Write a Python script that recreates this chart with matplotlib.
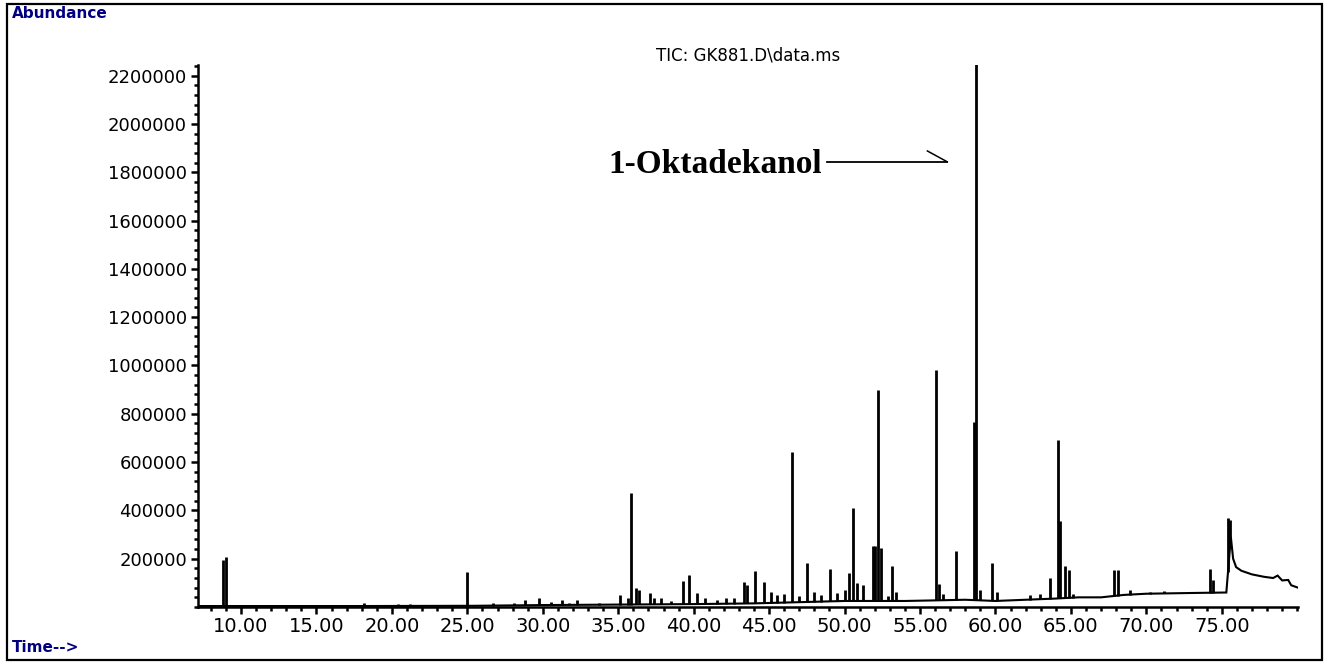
import numpy as np
import matplotlib.pyplot as plt
from matplotlib.patches import Rectangle
from matplotlib.ticker import MultipleLocator, FormatStrFormatter

PEAK_TIMES = [8.80, 9.00, 18.17, 20.42, 21.22, 25.01, 26.73, 28.06, 28.79, 29.72,
              30.52, 31.25, 31.71, 32.24, 33.70, 35.10, 35.63, 35.83, 36.16, 36.36,
              37.09, 37.36, 37.82, 38.49, 39.28, 39.68, 40.21, 40.74, 41.54, 42.14,
              42.67, 43.33, 43.53, 44.06, 44.66, 45.13, 45.52, 45.99, 46.52, 46.99,
              47.52, 47.98, 48.45, 49.04, 49.51, 50.04, 50.30, 50.57, 50.84, 51.24,
              51.90, 52.03, 52.23, 52.43, 52.90, 53.16, 53.43, 56.08, 56.28, 56.55,
              57.41, 58.61, 58.74, 59.00, 59.80, 60.07, 62.26, 62.92, 63.59, 64.12,
              64.25, 64.58, 64.85, 65.11, 66.24, 67.84, 68.10, 68.90, 70.22, 71.20,
              72.88, 74.21, 74.41, 75.41, 75.54]
PEAK_HEIGHTS = [195000, 207000, 17000, 12000, 12000, 145000, 17000, 17000, 29000, 37000,
                21000, 29000, 17000, 29000, 17000, 50000, 37000, 472000, 79000, 70000,
                58000, 37000, 37000, 25000, 108000, 133000, 58000, 37000, 29000, 37000,
                37000, 104000, 91000, 149000, 104000, 62000, 50000, 54000, 642000, 46000,
                182000, 62000, 50000, 157000, 58000, 70000, 141000, 410000, 99000, 91000,
                253000, 253000, 899000, 244000, 46000, 170000, 62000, 981000, 95000, 54000,
                232000, 766000, 2300000, 70000, 182000, 62000, 50000, 54000, 120000, 692000,
                356000, 170000, 153000, 54000, 41000, 153000, 153000, 70000, 62000, 66000,
                58000, 157000, 112000, 369000, 360000]

# slowly varying baseline and the tailing end of the run
BASE_TIMES = [7.15, 18.0, 25.5, 30.0, 35.0, 40.0, 44.0, 47.0, 50.0, 54.0,
              56.5, 58.0, 60.0, 62.0, 64.0, 65.5, 67.0, 68.5, 70.0, 73.0,
              75.3, 75.6, 75.75, 75.95, 76.3, 77.0, 77.8, 78.4, 78.7, 79.0,
              79.4, 79.6, 80.05]
BASE_LEVELS = [4000, 4000, 5000, 8000, 10000, 12000, 15000, 20000, 25000, 25000,
               28000, 30000, 25000, 30000, 35000, 40000, 40000, 50000, 55000, 58000,
               60000, 290000, 200000, 165000, 150000, 135000, 125000, 120000, 130000, 110000,
               112000, 90000, 80000]

Y_TICKS = [200000, 400000, 600000, 800000, 1000000, 1200000, 1400000,
           1600000, 1800000, 2000000, 2200000]
X_TICKS = [10, 15, 20, 25, 30, 35, 40, 45, 50, 55, 60, 65, 70, 75]

TITLE = "TIC: GK881.D\\data.ms"
LABEL = "1-Oktadekanol"

W, H = 1326, 662
fig = plt.figure(figsize=(W / 100, H / 100), dpi=100)
ax = fig.add_axes([198 / W, 1 - 607 / H, 1100 / W, 542 / H])

ax.plot(BASE_TIMES, BASE_LEVELS, color="black", lw=1.5, solid_joinstyle="miter")
feet = np.interp(PEAK_TIMES, BASE_TIMES, BASE_LEVELS)
ax.vlines(PEAK_TIMES, feet, PEAK_HEIGHTS, color="black", lw=2.0)

ax.set_xlim(7.15, 80.05)
ax.set_ylim(0, 2244000)
ax.set_xticks(X_TICKS)
ax.xaxis.set_major_formatter(FormatStrFormatter("%.2f"))
ax.xaxis.set_minor_locator(MultipleLocator(1))
ax.set_yticks(Y_TICKS)
ax.yaxis.set_major_formatter(FormatStrFormatter("%d"))
ax.yaxis.set_minor_locator(MultipleLocator(40000))

for side in ["top", "right"]:
    ax.spines[side].set_visible(False)
for side in ["left", "bottom"]:
    ax.spines[side].set_linewidth(1.8)
ax.tick_params(which="major", length=5, width=1.8, pad=3)
ax.tick_params(axis="x", labelsize=14, pad=2)
ax.tick_params(axis="y", labelsize=13)
ax.tick_params(which="minor", length=3, width=1.8)

ax.set_title(TITLE, fontsize=12, pad=2)

# annotation for the main peak
ax.text(48.51, 1830000, LABEL, ha="right", va="center",
        family="Liberation Serif", fontweight="bold", fontsize=24)
ax.plot([48.84, 56.81], [1843000, 1843000], color="black", lw=1.3, clip_on=False)
ax.plot([55.49, 56.81], [1888000, 1843000], color="black", lw=1.1, clip_on=False)

fig.text(12 / W, 1 - 14 / H, "Abundance", color="#000080", fontsize=11,
         fontweight="bold", va="center", ha="left")
fig.text(12 / W, 1 - 648 / H, "Time-->", color="#000080", fontsize=11,
         fontweight="bold", va="center", ha="left")
fig.patches.append(Rectangle((7 / W, 2 / H), 1315 / W, 656 / H, transform=fig.transFigure,
                             fill=False, edgecolor="black", lw=1.6))

fig.savefig("out.png", dpi=100)
